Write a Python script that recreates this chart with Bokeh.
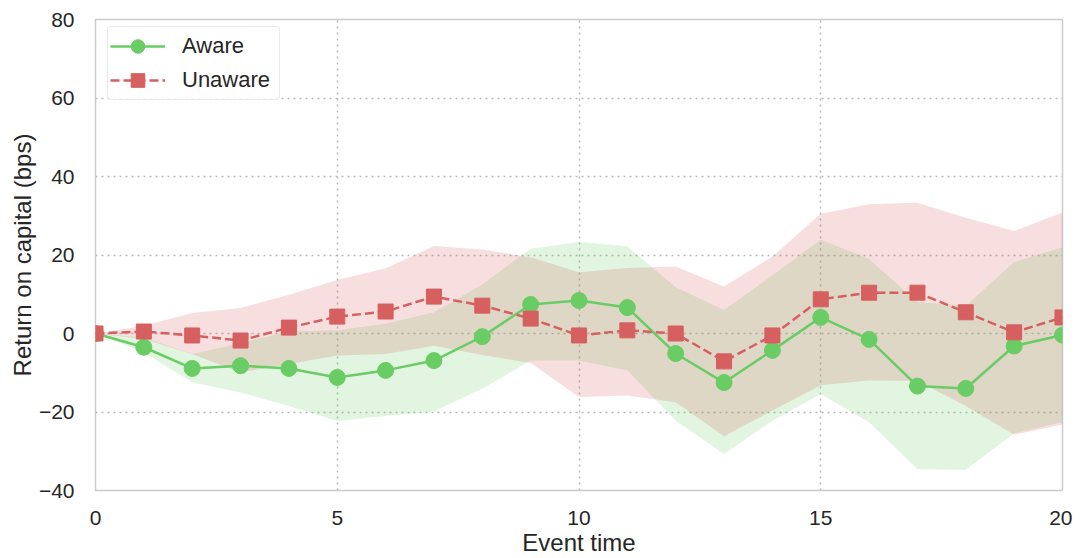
from bokeh.plotting import figure
from bokeh.models import Range1d, FixedTicker, Legend, LegendItem
from bokeh.embed import file_html
from bokeh.resources import INLINE

event_time = list(range(21))
aware = [0, -3.5, -8.9, -8.2, -8.9, -11.2, -9.4, -6.9, -0.8, 7.4, 8.4, 6.6,
         -5.1, -12.5, -4.3, 4.1, -1.5, -13.4, -14.0, -3.2, -0.4]
aware_lo = [0, -4.8, -12.4, -15.0, -18.5, -22.3, -21.0, -19.8, -14.1, -6.9, -6.9, -9.4,
            -22.2, -30.7, -22.2, -15.4, -22.6, -34.6, -34.7, -25.4, -22.6]
aware_hi = [0, -1.0, -5.2, -2.5, 0.5, 0.8, 2.5, 5.4, 12.5, 21.6, 23.3, 22.2,
            11.8, 6.0, 14.8, 23.9, 19.0, 8.0, 7.1, 18.2, 22.0]
unaware = [0, 0.5, -0.5, -1.8, 1.5, 4.3, 5.6, 9.4, 7.1, 3.8, -0.5, 0.8,
           0, -7.1, -0.5, 8.7, 10.4, 10.4, 5.4, 0.3, 4.1]
unaware_lo = [0, -1.4, -5.3, -9.9, -7.8, -5.6, -5.2, -3.1, -5.5, -7.5, -16.2, -15.8,
              -17.5, -26.2, -19.6, -13.2, -12.0, -12.1, -18.5, -25.8, -23.2]
unaware_hi = [0, 2.0, 5.2, 6.5, 9.9, 13.6, 16.6, 22.3, 21.4, 19.4, 15.6, 16.7,
              17.1, 12.0, 19.6, 30.5, 32.9, 33.3, 29.5, 26.1, 30.8]
x_ticks = [0, 5, 10, 15, 20]
y_ticks = [-40, -20, 0, 20, 40, 60, 80]

GREEN = "#6acc64"
RED = "#d65f5f"
FONT = "Liberation Sans"

p = figure(frame_width=967, frame_height=471, output_backend="svg", toolbar_location=None,
           x_range=Range1d(0, 20), y_range=Range1d(-40, 80),
           min_border_left=95, min_border_right=10, min_border_top=19, min_border_bottom=58)
p.background_fill_color = "white"
p.border_fill_color = "white"
p.outline_line_color = "#cccccc"
p.outline_line_width = 1.5

for ax in (p.xaxis[0], p.yaxis[0]):
    ax.axis_line_color = None
    ax.major_tick_line_color = None
    ax.minor_tick_line_color = None
    ax.major_label_text_font = FONT
    ax.major_label_text_font_size = "21px"
    ax.major_label_text_color = "#262626"
    ax.axis_label_text_font = FONT
    ax.axis_label_text_font_size = "24px"
    ax.axis_label_text_font_style = "normal"
    ax.axis_label_text_color = "#262626"

p.xaxis.ticker = FixedTicker(ticks=x_ticks)
p.yaxis.ticker = FixedTicker(ticks=y_ticks)
p.xaxis.axis_label = "Event time"
p.yaxis.axis_label = "Return on capital (bps)"
p.xaxis.major_label_standoff = 14
p.yaxis.major_label_standoff = 15
p.xaxis.axis_label_standoff = 1
p.yaxis.axis_label_standoff = 0

p.grid.grid_line_color = "#b8b8b8"
p.grid.grid_line_dash = "2 4"
p.grid.grid_line_width = 1.5

p.varea(x=event_time, y1=aware_lo, y2=aware_hi, fill_color=GREEN, fill_alpha=0.2)
p.varea(x=event_time, y1=unaware_lo, y2=unaware_hi, fill_color=RED, fill_alpha=0.2)

la = p.line(event_time, aware, line_color=GREEN, line_width=2.5)
sa = p.scatter(event_time, aware, marker="circle", size=16, fill_color=GREEN, line_color=GREEN)
lu = p.line(event_time, unaware, line_color=RED, line_width=2.5, line_dash="9 4")
su = p.scatter(event_time, unaware, marker="square", size=15, fill_color=RED, line_color=RED)

legend = Legend(items=[LegendItem(label="Aware", renderers=[la, sa]),
                       LegendItem(label="Unaware", renderers=[lu, su])],
                location=(12, 390))
legend.label_text_font = FONT
legend.label_text_font_size = "22px"
legend.label_text_color = "#262626"
legend.glyph_width = 55
legend.glyph_height = 34
legend.label_height = 34
legend.label_width = 95
legend.label_standoff = 17
legend.spacing = 0
legend.padding = 2
legend.margin = 0
legend.border_line_color = "#d5d5d5"
legend.border_line_width = 1
legend.border_radius = 4
legend.background_fill_alpha = 0.85
p.add_layout(legend)

open("out.html", "w").write(file_html(p, INLINE))
